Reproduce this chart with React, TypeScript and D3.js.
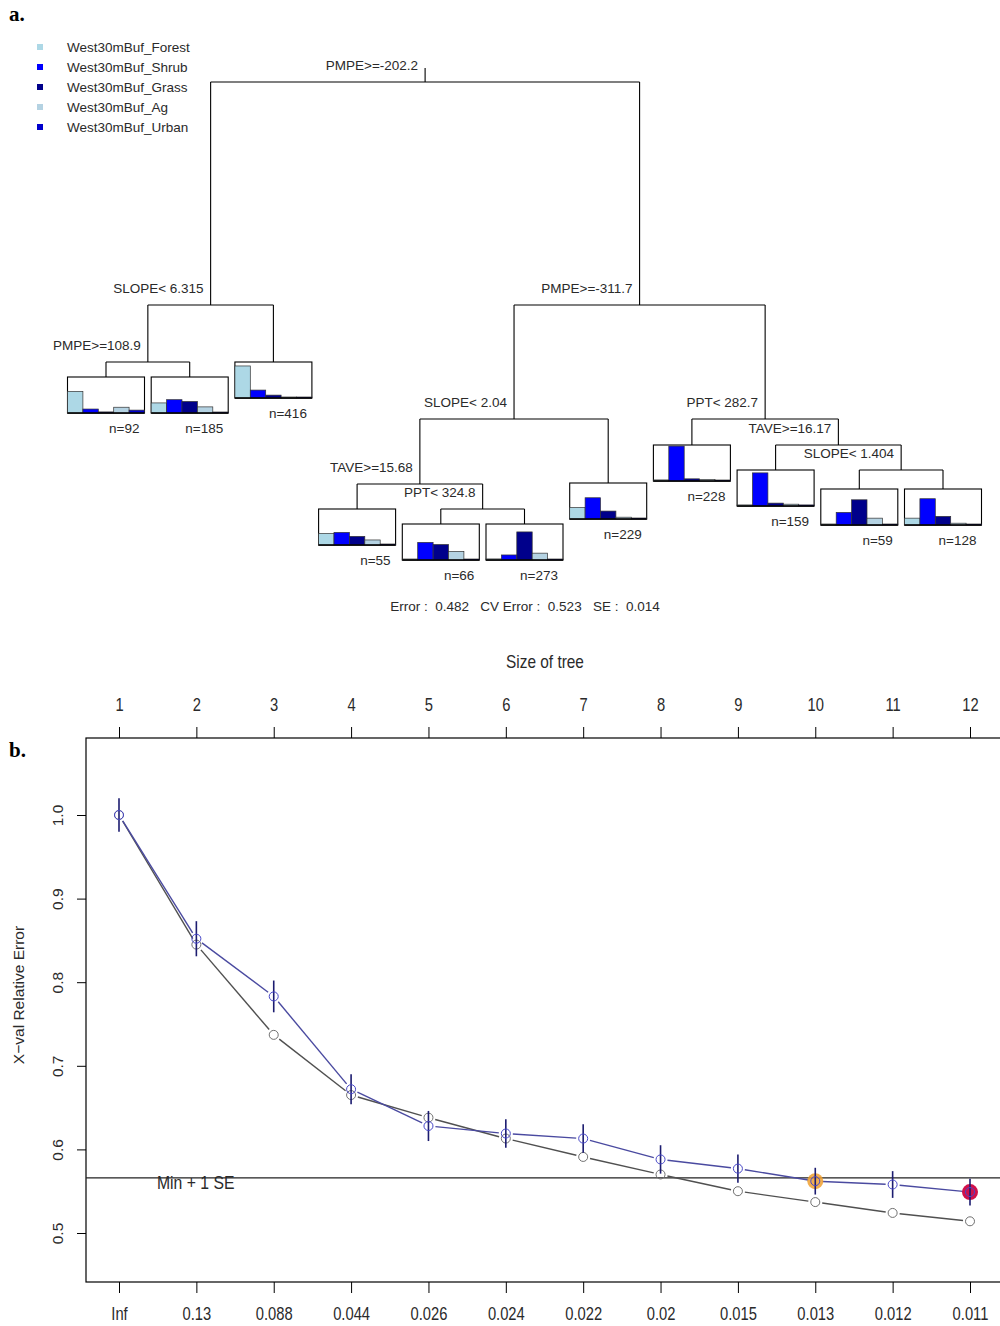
import React, { useEffect, useRef } from "react";
import * as d3 from "d3";

// ---------- panel a: classification tree ----------
const classNames = ["West30mBuf_Forest", "West30mBuf_Shrub", "West30mBuf_Grass", "West30mBuf_Ag", "West30mBuf_Urban"];
const classColors = ["#add8e6", "#0000ff", "#00008b", "#b4d2e2", "#0000cd"];

// split nodes use rpart numbering (children of k are 2k and 2k+1)
const splitNodes = [1, 2, 4, 3, 6, 12, 25, 7, 15, 31];
const splitLabels = ["PMPE>=-202.2", "SLOPE< 6.315", "PMPE>=108.9", "PMPE>=-311.7", "SLOPE< 2.04",
  "TAVE>=15.68", "PPT< 324.8", "PPT< 282.7", "TAVE>=16.17", "SLOPE< 1.404"];
const splitDev = [1.0, 0.554, 0.44, 0.554, 0.326, 0.196, 0.146, 0.326, 0.274, 0.224];

// leaves, left to right
const leafNodes = [8, 9, 5, 24, 50, 51, 13, 14, 30, 62, 63];
const leafN = [92, 185, 416, 55, 66, 273, 229, 228, 159, 59, 128];
const leafDev = [0.41, 0.41, 0.44, 0.146, 0.116, 0.116, 0.198, 0.274, 0.224, 0.186, 0.186];
const leafForest = [0.60, 0.28, 0.89, 0.32, 0.0, 0.03, 0.32, 0.03, 0.03, 0.0, 0.19];
const leafShrub = [0.11, 0.37, 0.22, 0.35, 0.49, 0.14, 0.59, 0.97, 0.92, 0.35, 0.73];
const leafGrass = [0.03, 0.32, 0.08, 0.24, 0.43, 0.78, 0.22, 0.06, 0.08, 0.70, 0.24];
const leafAg = [0.16, 0.17, 0.02, 0.14, 0.24, 0.19, 0.05, 0.04, 0.05, 0.19, 0.05];
const leafUrban = [0.08, 0.02, 0.01, 0.02, 0.02, 0.02, 0.02, 0.02, 0.03, 0.02, 0.02];

// ---------- panel b: cross-validation plot ----------
const treeSizes = [1, 2, 3, 4, 5, 6, 7, 8, 9, 10, 11, 12];
const cpLabels = ["Inf", "0.13", "0.088", "0.044", "0.026", "0.024", "0.022", "0.02", "0.015", "0.013", "0.012", "0.011"];
const xError = [1.0, 0.852, 0.783, 0.672, 0.628, 0.619, 0.613, 0.588, 0.577, 0.562, 0.558, 0.549];
const xStd = [0.02, 0.021, 0.019, 0.018, 0.018, 0.017, 0.017, 0.017, 0.017, 0.016, 0.016, 0.016];
const relError = [1.0, 0.845, 0.737, 0.665, 0.638, 0.613, 0.591, 0.570, 0.550, 0.537, 0.524, 0.514];
const minPlus1SE = 0.566;
const yTicks = [0.5, 0.6, 0.7, 0.8, 0.9, 1.0];

const FONT = "'Liberation Sans', Arial, sans-serif";
const TXT = "#2a2a2a";

type Sel = d3.Selection<SVGSVGElement, unknown, null, undefined>;

const drawTree = (svg: Sel) => {
  const x = d3.scaleLinear().domain([0, leafNodes.length - 1]).range([106, 943]);
  const y = d3.scaleLinear().domain([1, 0]).range([82, 582]);
  const boxW = 77, boxH = 36;

  const pos = new Map<number, { x: number; y: number }>();
  leafNodes.forEach((id, i) => pos.set(id, { x: x(i), y: y(leafDev[i]) }));
  const nodeX = (id: number): number => pos.has(id) ? pos.get(id)!.x : (nodeX(2 * id) + nodeX(2 * id + 1)) / 2;
  splitNodes.forEach((id, i) => pos.set(id, { x: nodeX(id), y: y(splitDev[i]) }));

  const root = svg.append("g");

  // legend
  const legend = root.append("g").attr("font-family", FONT).attr("font-size", 13.5).attr("fill", TXT);
  classNames.forEach((c, i) => {
    const cy = 47 + i * 20;
    legend.append("rect").attr("x", 37).attr("y", cy - 3).attr("width", 6).attr("height", 6).attr("fill", classColors[i]);
    legend.append("text").attr("x", 67).attr("y", cy + 5).text(c);
  });

  // branches
  const g = root.append("g").attr("stroke", "#000").attr("stroke-width", 1.1);
  splitNodes.forEach(id => {
    const p = pos.get(id)!, l = pos.get(2 * id)!, r = pos.get(2 * id + 1)!;
    g.append("line").attr("x1", l.x).attr("x2", r.x).attr("y1", p.y).attr("y2", p.y);
    [l, r].forEach(c => g.append("line").attr("x1", c.x).attr("x2", c.x).attr("y1", p.y).attr("y2", c.y));
  });
  const top = pos.get(1)!;
  g.append("line").attr("x1", top.x).attr("x2", top.x).attr("y1", top.y - 14).attr("y2", top.y);

  // split labels
  const labels = root.append("g").attr("font-family", FONT).attr("font-size", 13.5).attr("fill", TXT).attr("text-anchor", "end");
  splitNodes.forEach((id, i) => {
    const p = pos.get(id)!;
    labels.append("text").attr("x", p.x - 7).attr("y", p.y - 12.5).text(splitLabels[i]);
  });

  // leaves with class bar plots
  const h = d3.scaleLinear().domain([0, 1]).range([0, boxH]);
  leafNodes.forEach((id, i) => {
    const p = pos.get(id)!;
    const x0 = p.x - boxW / 2;
    const band = d3.scaleBand().domain(classNames).range([x0, x0 + boxW]).padding(0);
    const vals = [leafForest[i], leafShrub[i], leafGrass[i], leafAg[i], leafUrban[i]];
    const lg = root.append("g");
    lg.append("rect").attr("x", x0).attr("y", p.y).attr("width", boxW).attr("height", boxH)
      .attr("fill", "#fff").attr("stroke", "#000").attr("stroke-width", 1.1);
    lg.selectAll("rect.bar").data(vals).enter().append("rect").attr("class", "bar")
      .attr("x", (d, k) => band(classNames[k])!)
      .attr("y", d => p.y + boxH - Math.max(h(d), 1))
      .attr("width", band.bandwidth())
      .attr("height", d => Math.max(h(d), 1))
      .attr("fill", (d, k) => classColors[k])
      .attr("stroke", "#333").attr("stroke-width", 0.7);
    lg.append("line").attr("x1", x0).attr("x2", x0 + boxW).attr("y1", p.y + boxH).attr("y2", p.y + boxH)
      .attr("stroke", "#000").attr("stroke-width", 1.3);
    lg.append("text").attr("x", x0 + boxW - 5).attr("y", p.y + boxH + 19.5)
      .attr("text-anchor", "end").attr("font-family", FONT).attr("font-size", 13.5).attr("fill", TXT)
      .text(`n=${leafN[i]}`);
  });

  root.append("text").attr("x", 525).attr("y", 610.5).attr("text-anchor", "middle")
    .attr("font-family", FONT).attr("font-size", 13.5).attr("fill", TXT).style("white-space", "pre")
    .text("Error :  0.482   CV Error :  0.523   SE :  0.014");

  root.append("text").attr("x", 9).attr("y", 21).attr("font-family", "'Liberation Serif', 'DejaVu Serif', serif")
    .attr("font-weight", "bold").attr("font-size", 21).text("a.");
};

const drawCp = (svg: Sel) => {
  const left = 86, right = 1004, top = 738, bottom = 1282;
  const x = d3.scaleLinear().domain([1, 12]).range([119, 970]);
  const y = d3.scaleLinear().domain([0.5, 1.0]).range([1233, 815]);
  const g = svg.append("g");

  g.append("text").attr("x", 9).attr("y", 757).attr("font-family", "'Liberation Serif', 'DejaVu Serif', serif")
    .attr("font-weight", "bold").attr("font-size", 21).text("b.");

  g.append("rect").attr("x", left).attr("y", top).attr("width", right - left).attr("height", bottom - top)
    .attr("fill", "none").attr("stroke", "#000").attr("stroke-width", 1.2);

  // top axis: size of tree
  const topAxis = g.append("g").attr("transform", `translate(0,${top})`)
    .call(d3.axisTop(x).tickValues(treeSizes).tickSize(11).tickPadding(16).tickFormat(d => String(d)));
  // bottom axis: cp
  const botAxis = g.append("g").attr("transform", `translate(0,${bottom})`)
    .call(d3.axisBottom(x).tickValues(treeSizes).tickSize(11).tickPadding(14).tickFormat((d, i) => cpLabels[i]));
  [topAxis, botAxis].forEach(a => {
    a.select(".domain").remove();
    a.selectAll("line").attr("stroke", "#000");
    a.selectAll("text").attr("font-family", FONT).attr("font-size", 18).attr("fill", TXT)
      .attr("transform", "scale(0.82,1)");
  });

  // left axis with rotated labels
  const leftAxis = g.append("g").attr("transform", `translate(${left},0)`)
    .call(d3.axisLeft(y).tickValues(yTicks).tickSize(9).tickFormat(d3.format(".1f")));
  leftAxis.select(".domain").remove();
  leftAxis.selectAll("line").attr("stroke", "#000");
  leftAxis.selectAll("text").attr("x", 0).attr("y", 0).attr("dy", 0).attr("text-anchor", "middle")
    .attr("transform", `translate(${63 - left},0) rotate(-90)`)
    .attr("font-family", FONT).attr("font-size", 15.5).attr("fill", TXT);

  g.append("text").attr("transform", "translate(24,995) rotate(-90)").attr("text-anchor", "middle")
    .attr("font-family", FONT).attr("font-size", 15.5).attr("fill", TXT).text("X\u2212val Relative Error");
  g.append("text").attr("transform", "translate(545,668) scale(0.88,1)").attr("text-anchor", "middle")
    .attr("font-family", FONT).attr("font-size", 17.5).attr("fill", TXT).text("Size of tree");

  // min + 1 SE reference line
  g.append("line").attr("x1", left).attr("x2", right).attr("y1", y(minPlus1SE)).attr("y2", y(minPlus1SE))
    .attr("stroke", "#222").attr("stroke-width", 1.3);
  g.append("text").attr("transform", `translate(157,${y(minPlus1SE) + 11.5}) scale(0.9,1)`)
    .attr("font-family", FONT).attr("font-size", 17.5).attr("fill", TXT).text("Min + 1 SE");

  // R type="b" lines: segments with gaps around the points
  const gapLine = (vals: number[], color: string) => {
    for (let i = 0; i < vals.length - 1; i++) {
      const x0 = x(treeSizes[i]), y0 = y(vals[i]), x1 = x(treeSizes[i + 1]), y1 = y(vals[i + 1]);
      const d = Math.hypot(x1 - x0, y1 - y0), gap = 7;
      const ux = (x1 - x0) / d, uy = (y1 - y0) / d;
      g.append("line").attr("x1", x0 + ux * gap).attr("y1", y0 + uy * gap)
        .attr("x2", x1 - ux * gap).attr("y2", y1 - uy * gap)
        .attr("stroke", color).attr("stroke-width", 1.4);
    }
  };
  gapLine(relError, "#505050");
  gapLine(xError, "#4a4aa0");

  g.selectAll("circle.rel").data(relError).enter().append("circle").attr("class", "rel")
    .attr("cx", (d, i) => x(treeSizes[i])).attr("cy", d => y(d)).attr("r", 4.5)
    .attr("fill", "none").attr("stroke", "#707070").attr("stroke-width", 1);

  // highlighted trees
  g.append("circle").attr("cx", x(10)).attr("cy", y(xError[9])).attr("r", 8).attr("fill", "#f0a030").attr("opacity", 0.85);
  g.append("circle").attr("cx", x(12)).attr("cy", y(xError[11])).attr("r", 8).attr("fill", "#d0104a");

  g.selectAll("line.err").data(xError).enter().append("line").attr("class", "err")
    .attr("x1", (d, i) => x(treeSizes[i])).attr("x2", (d, i) => x(treeSizes[i]))
    .attr("y1", (d, i) => y(d - xStd[i])).attr("y2", (d, i) => y(d + xStd[i]))
    .attr("stroke", "#1c1c70").attr("stroke-width", 1.6);
  g.selectAll("circle.xerr").data(xError).enter().append("circle").attr("class", "xerr")
    .attr("cx", (d, i) => x(treeSizes[i])).attr("cy", d => y(d)).attr("r", 4.5)
    .attr("fill", "none").attr("stroke", "#4848c8").attr("stroke-width", 1);
};

const App = () => {
  const ref = useRef<SVGSVGElement>(null);

  useEffect(() => {
    const svg = d3.select(ref.current!) as Sel;
    svg.selectAll("*").remove();
    svg.append("rect").attr("width", 1000).attr("height", 1326).attr("fill", "#fff");
    drawTree(svg);
    drawCp(svg);
  }, []);

  return (
    <div style={{ position: "absolute", left: 0, top: 0 }}>
      <svg ref={ref} width={1000} height={1326} style={{ display: "block" }} />
    </div>
  );
};

export default App;
